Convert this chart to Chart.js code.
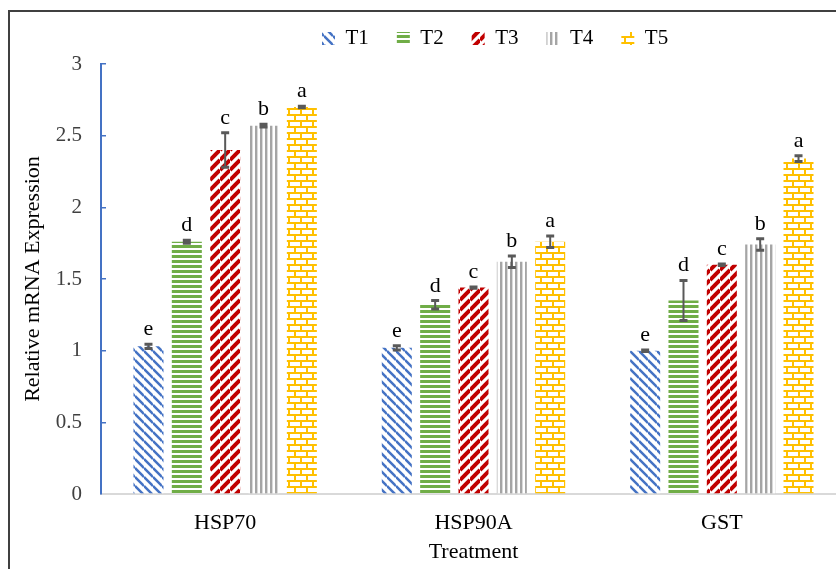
<!DOCTYPE html>
<html>
<head>
<meta charset="utf-8">
<script src="https://cdn.jsdelivr.net/npm/chart.js@4"></script>
<style>
  html, body { margin: 0; padding: 0; background: #fff; overflow: hidden; }
  #wrap { position: relative; width: 836px; height: 569px; overflow: hidden; }
  #frame { position: absolute; left: 8px; top: 10px; width: 1000px; height: 1000px;
           border-top: 2px solid #404040; border-left: 2px solid #404040; pointer-events: none; }
</style>
</head>
<body>
<div id="wrap">
  <canvas id="chart" width="870" height="569"></canvas>
  <div id="frame"></div>
</div>
<script>
// genes on the x axis
const genes = ["HSP70", "HSP90A", "GST"];

// relative expression per treatment
const t1 = [1.03, 1.02, 1.00];
const t2 = [1.76, 1.32, 1.35];
const t3 = [2.40, 1.44, 1.60];
const t4 = [2.57, 1.62, 1.74];
const t5 = [2.70, 1.76, 2.34];

// error bar half widths
const t1Err = [0.015, 0.015, 0.005];
const t2Err = [0.01, 0.03, 0.14];
const t3Err = [0.12, 0.005, 0.005];
const t4Err = [0.01, 0.04, 0.04];
const t5Err = [0.005, 0.04, 0.02];

// significance letters
const t1Sig = ["e", "e", "e"];
const t2Sig = ["d", "d", "d"];
const t3Sig = ["c", "c", "c"];
const t4Sig = ["b", "b", "b"];
const t5Sig = ["a", "a", "a"];

const yTicks = [0, 0.5, 1, 1.5, 2, 2.5, 3];

const FONT = "'Liberation Serif', 'Times New Roman', serif";
Chart.defaults.font.family = FONT;
Chart.defaults.color = "#000";

// little tiles for the hatch fills
function makePattern(w, h, draw) {
  const c = document.createElement("canvas");
  c.width = w; c.height = h;
  const g = c.getContext("2d");
  g.fillStyle = "#fff";
  g.fillRect(0, 0, w, h);
  draw(g, w, h);
  return g.createPattern(c, "repeat");
}

const blueHatch = makePattern(9, 9, (g, w) => {
  g.strokeStyle = "#4472C4"; g.lineWidth = 2.5;
  for (let k = -1; k <= 1; k++) {
    g.beginPath(); g.moveTo(0, k * w); g.lineTo(w, w + k * w); g.stroke();
  }
});
const greenLines = makePattern(5, 5, (g, w) => {
  g.fillStyle = "#70AD47"; g.fillRect(0, 0, w, 3);
});
const redHatch = makePattern(10, 10, (g, w) => {
  g.strokeStyle = "#C00000"; g.lineWidth = 4;
  for (let k = 0; k <= 2; k++) {
    g.beginPath(); g.moveTo(0, k * w); g.lineTo(w, k * w - w); g.stroke();
  }
});
const grayLines = makePattern(5, 5, (g, w, h) => {
  g.fillStyle = "#A5A5A5"; g.fillRect(0, 0, 2, h);
  g.fillStyle = "#DADADA"; g.fillRect(2, 0, 1, h);
});
const bricks = makePattern(12, 12, (g) => {
  g.fillStyle = "#FFC000";
  g.fillRect(0, 0, 12, 2);
  g.fillRect(0, 6, 12, 2);
  g.fillRect(0, 0, 2, 6);
  g.fillRect(6, 6, 2, 6);
});

const errorBars = {
  id: "errorBars",
  afterDatasetsDraw(chart) {
    const ctx = chart.ctx, y = chart.scales.y;
    ctx.save();
    chart.data.datasets.forEach((ds, i) => {
      chart.getDatasetMeta(i).data.forEach((bar, j) => {
        const v = ds.data[j], e = ds.errors[j];
        const top = y.getPixelForValue(v + e);
        const bot = y.getPixelForValue(v - e);
        ctx.strokeStyle = "#595959";
        ctx.lineWidth = 2;
        ctx.beginPath(); ctx.moveTo(bar.x, top); ctx.lineTo(bar.x, bot); ctx.stroke();
        ctx.lineWidth = 3;
        ctx.beginPath();
        ctx.moveTo(bar.x - 4, top); ctx.lineTo(bar.x + 4, top);
        ctx.moveTo(bar.x - 4, bot); ctx.lineTo(bar.x + 4, bot);
        ctx.stroke();
        ctx.fillStyle = "#000";
        ctx.font = "22px " + FONT;
        ctx.textAlign = "center";
        ctx.textBaseline = "alphabetic";
        ctx.fillText(ds.letters[j], bar.x, top - 9);
      });
    });
    ctx.restore();
  }
};

// push the legend row over (and up) to where the original sits
const legendShift = {
  id: "legendShift",
  afterLayout(chart) {
    const lg = chart.legend;
    const d = 294 - lg.left;
    lg.left += d; lg.right += d;
    lg.top -= 5; lg.bottom -= 5;
  }
};

const series = [
  { label: "T1", data: t1, errors: t1Err, letters: t1Sig, backgroundColor: blueHatch },
  { label: "T2", data: t2, errors: t2Err, letters: t2Sig, backgroundColor: greenLines },
  { label: "T3", data: t3, errors: t3Err, letters: t3Sig, backgroundColor: redHatch },
  { label: "T4", data: t4, errors: t4Err, letters: t4Sig, backgroundColor: grayLines },
  { label: "T5", data: t5, errors: t5Err, letters: t5Sig, backgroundColor: bricks }
];

new Chart(document.getElementById("chart").getContext("2d"), {
  type: "bar",
  data: {
    labels: genes,
    datasets: series.map(s => Object.assign({ borderWidth: 0 }, s))
  },
  options: {
    responsive: false,
    animation: false,
    categoryPercentage: 0.772,
    barPercentage: 0.783,
    layout: { padding: { left: 0, right: 24, top: 5, bottom: 0 } },
    plugins: {
      legend: {
        position: "top",
        align: "start",
        labels: { boxWidth: 13, boxHeight: 13, padding: 28, color: "#000", font: { size: 21 } }
      },
      tooltip: { enabled: false }
    },
    scales: {
      x: {
        afterFit(s) { s.height = 75; },
        grid: { display: false },
        border: { display: true, color: "#D9D9D9", width: 2 },
        ticks: { color: "#000", font: { size: 22 }, padding: 8 },
        title: { display: true, text: "Treatment", color: "#000", font: { size: 22 }, padding: { top: 0, bottom: 4 } }
      },
      y: {
        min: 0,
        max: 3,
        afterFit(s) { s.width = 101; },
        afterBuildTicks(s) { s.ticks = yTicks.map(v => ({ value: v })); },
        grid: { drawOnChartArea: false, drawTicks: true, tickLength: -5, color: "#4472C4", lineWidth: 1.5 },
        border: { display: true, color: "#4472C4", width: 2 },
        ticks: { color: "#404040", font: { size: 21 }, padding: 24, callback: v => String(v) },
        title: { display: true, text: "Relative mRNA Expression", color: "#000", font: { size: 22 }, padding: { top: 20, bottom: 0 } }
      }
    }
  },
  plugins: [errorBars, legendShift]
});
</script>
</body>
</html>
